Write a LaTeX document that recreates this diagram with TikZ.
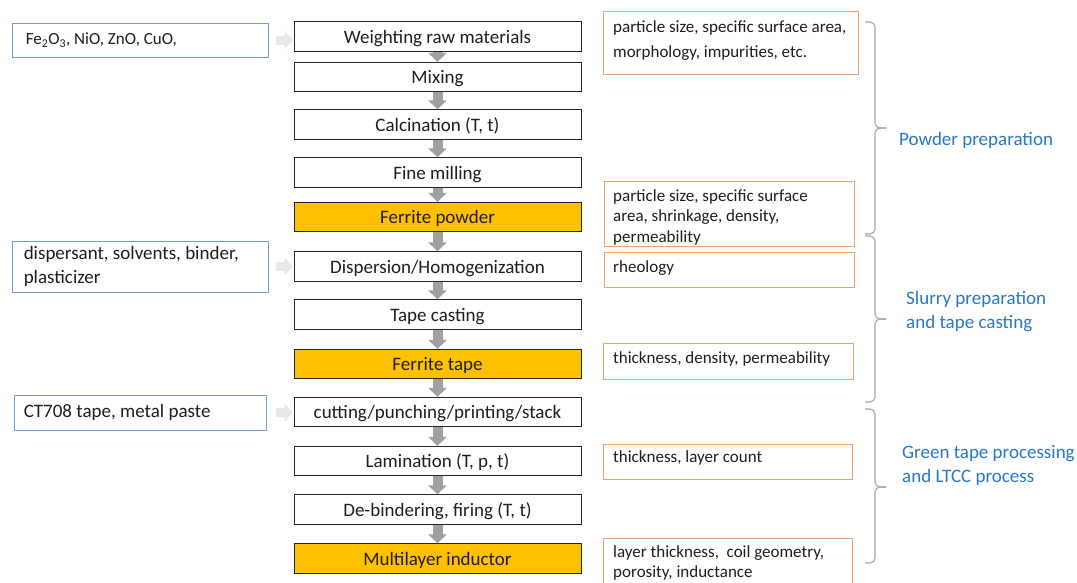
\documentclass[tikz,border=0pt]{standalone}
\usepackage{fontspec}
\setmainfont{Carlito}
\usetikzlibrary{arrows.meta}
\definecolor{txt}{RGB}{30,30,30}
\definecolor{ferr}{RGB}{255,192,0}
\definecolor{lblue}{RGB}{112,156,212}
\definecolor{lorange}{RGB}{242,160,105}
\definecolor{bgrey}{RGB}{166,166,166}
\definecolor{agrey}{RGB}{160,160,160}
\definecolor{lgrey}{RGB}{232,232,232}
\definecolor{labblue}{RGB}{40,120,196}
\begin{document}
\begin{tikzpicture}[x=1pt,y=-1pt,
  cbox/.style={draw=black!85, line width=0.8pt, minimum width=287pt, minimum height=29.5pt, inner sep=0pt, text height=14pt, text depth=0.5pt, text=txt, font=\fontsize{19}{22}\selectfont},
  fbox/.style={cbox, fill=ferr},
  inbox/.style={draw=lblue, line width=0.9pt, minimum width=256pt, inner sep=0pt},
  intext/.style={anchor=west, align=left, inner sep=0pt, text=txt, font=\fontsize{19}{24}\selectfont},
  rbox/.style={draw=lorange, line width=0.9pt, inner sep=0pt, anchor=north west},
  rtext/.style={anchor=north west, align=left, inner sep=0pt, text=txt, font=\fontsize{17}{20.5}\selectfont},
  darr/.style={draw=agrey, line width=10pt, -{Triangle[width=18pt,length=9pt]}},
  larr/.style={draw=lgrey, line width=9pt, -{Triangle[width=18pt,length=8pt]}},
  brc/.style={draw=bgrey, line width=1.1pt, rounded corners=5pt},
  lab/.style={anchor=west, align=left, inner sep=0pt, text=labblue, font=\fontsize{19}{24}\selectfont}
]
\useasboundingbox (0,0) rectangle (1077,582);
\fill[white] (0,0) rectangle (1077,582);

% centre column
\node[cbox] (w)    at (437.5,36.5)  {Weighting raw materials};
\node[cbox] (mix)  at (437.5,77)    {Mixing};
\node[cbox] (calc) at (437.5,124.5) {Calcination (T, t)};
\node[cbox] (mill) at (437.5,172.5) {Fine milling};
\node[fbox] (fp)   at (437.5,217)   {Ferrite powder};
\node[cbox] (disp) at (437.5,266.5) {Dispersion/Homogenization};
\node[cbox] (tc)   at (437.5,314.5) {Tape casting};
\node[fbox] (ft)   at (437.5,364)   {Ferrite tape};
\node[cbox] (cut)  at (437.5,412)   {cutting/punching/printing/stack};
\node[cbox] (lam)  at (437.5,461)   {Lamination (T, p, t)};
\node[cbox] (deb)  at (437.5,509.5) {De-bindering, firing (T, t)};
\node[fbox] (ml)   at (437.5,558.5) {Multilayer inductor};

\foreach \a/\b in {w/mix,mix/calc,calc/mill,mill/fp,fp/disp,disp/tc,tc/ft,ft/cut,cut/lam,lam/deb,deb/ml}
  \draw[darr] (\a.south) -- (\b.north);

% inputs
\node[inbox, minimum height=34pt] (in1) at (140,40) {};
\node[intext, font=\fontsize{17}{20}\selectfont] (in1t) at ([xshift=14pt]in1.west) {Fe\textsubscript{2}O\textsubscript{3}, NiO, ZnO, CuO,};
\node[inbox, minimum height=51pt] (in2) at (140,266.5) {};
\node[intext] (in2t) at ([xshift=12pt]in2.west) {dispersant, solvents, binder,\\plasticizer};
\node[inbox, minimum height=35pt, minimum width=252pt] (in3) at (140,412.5) {};
\node[intext] (in3t) at ([xshift=10pt]in3.west) {CT708 tape, metal paste};

\draw[larr, shorten <=8pt, shorten >=1pt] (in1.east) -- (in1.east -| w.west);
\draw[larr, shorten <=8pt, shorten >=1pt] (in2.east) -- (in2.east -| disp.west);
\draw[larr, shorten <=10pt, shorten >=1pt] (in3.east) -- (in3.east -| cut.west);

% properties
\node[rbox, minimum width=255pt, minimum height=63pt] (pa) at (603,11) {};
\node[rtext, font=\fontsize{17}{25}\selectfont] (pat) at (613,20) {particle size, specific surface area,\\morphology, impurities, etc.};
\node[rbox, minimum width=250pt, minimum height=65pt] (pb) at (604,181) {};
\node[rtext] (pbt) at (613,189) {particle size, specific surface\\area, shrinkage, density,\\permeability};
\node[rbox, minimum width=250pt, minimum height=35pt] (pc) at (604,252) {};
\node[rtext] (pct) at (613,260) {rheology};
\node[rbox, minimum width=250pt, minimum height=36pt] (pd) at (603,343) {};
\node[rtext] (pdt) at (613,351) {thickness, density, permeability};
\node[rbox, minimum width=249pt, minimum height=35pt] (pe) at (603,444) {};
\node[rtext] (pet) at (613,450) {thickness, layer count};
\node[rbox, minimum width=249pt, minimum height=50pt] (pf) at (603,538) {};
\node[rtext] (pft) at (613,545) {layer thickness,\ \ coil geometry,\\porosity, inductance};

% braces
\draw[brc] (865,22) -- (875,22) -- (875,128) -- (886,128);
\draw[brc] (886,128) -- (875,128) -- (875,234) -- (865,234);
\draw[brc] (865,236) -- (875,236) -- (875,319) -- (886,319);
\draw[brc] (886,319) -- (875,319) -- (875,402) -- (865,402);
\draw[brc] (865,409) -- (875,409) -- (875,487) -- (886,487);
\draw[brc] (886,487) -- (875,487) -- (875,563) -- (865,563);

\node[lab] (l1) at (899,140) {Powder preparation};
\node[lab] (l2) at (906,312) {Slurry preparation\\and tape casting};
\node[lab] (l3) at (902,465) {Green tape processing\\and LTCC process};
\end{tikzpicture}
\end{document}
